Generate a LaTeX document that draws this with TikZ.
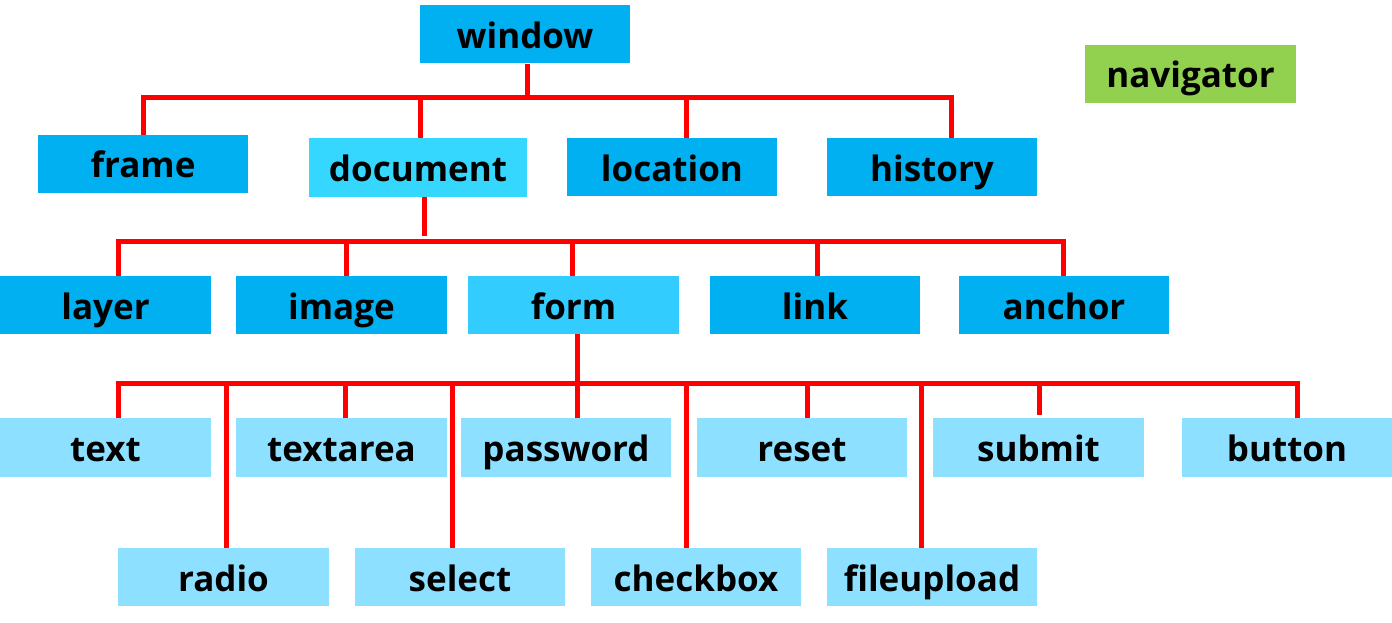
\documentclass[tikz,border=0pt]{standalone}
\usepackage{fontspec}
\setmainfont{Open Sans}
\definecolor{cdark}{RGB}{0,176,240}
\definecolor{cmid}{RGB}{54,215,255}
\definecolor{cform}{RGB}{51,204,255}
\definecolor{clight}{RGB}{141,224,255}
\definecolor{cgreen}{RGB}{146,208,80}
\definecolor{cred}{RGB}{255,0,0}
\begin{document}
\begin{tikzpicture}[x=1pt,y=1pt,
  box/.style={draw=none,minimum width=210pt,minimum height=58pt,inner sep=0pt,
    text height=30pt,text depth=2pt,
    font=\fontsize{35}{40}\selectfont\bfseries},
  conn/.style={draw=cred,line width=5pt}]
\useasboundingbox (0,0) rectangle (1392,-623);
% level 0
\node[box,fill=cdark] (window) at (525,-34.5) {window};
\node[box,fill=cgreen,minimum width=211pt] (navigator) at (1190.5,-74) {navigator};
% level 1
\node[box,fill=cdark] (frame) at (143,-164) {frame};
\node[box,fill=cmid,minimum width=218pt,minimum height=59pt] (document) at (418,-167.5) {document};
\node[box,fill=cdark] (location) at (672,-167) {location};
\node[box,fill=cdark] (history) at (932,-167) {history};
% level 2
\node[box,fill=cdark,minimum width=211pt] (layer) at (105.5,-305) {layer};
\node[box,fill=cdark,minimum width=211pt] (image) at (341.5,-305) {image};
\node[box,fill=cform,minimum width=211pt] (form) at (573.5,-305) {form};
\node[box,fill=cdark] (link) at (815,-305) {link};
\node[box,fill=cdark] (anchor) at (1064,-305) {anchor};
% level 3
\node[box,fill=clight,minimum width=211pt,minimum height=59pt] (text) at (105.5,-447.5) {text};
\node[box,fill=clight,minimum width=211pt,minimum height=59pt] (textarea) at (341.5,-447.5) {textarea};
\node[box,fill=clight,minimum height=59pt] (password) at (566,-447.5) {password};
\node[box,fill=clight,minimum height=59pt] (reset) at (802,-447.5) {reset};
\node[box,fill=clight,minimum width=211pt,minimum height=59pt] (submit) at (1038.5,-447.5) {submit};
\node[box,fill=clight,minimum height=59pt] (button) at (1287,-447.5) {button};
% level 4
\node[box,fill=clight,minimum width=211pt] (radio) at (223.5,-577) {radio};
\node[box,fill=clight] (select) at (460,-577) {select};
\node[box,fill=clight] (checkbox) at (696,-577) {checkbox};
\node[box,fill=clight] (fileupload) at (932,-577) {fileupload};
% bus 1
\coordinate (w0) at (527,-98);
\coordinate (a1) at (143,-98);
\coordinate (a2) at (420,-98);
\coordinate (a3) at (686,-98);
\coordinate (a4) at (951,-98);
\draw[conn] (w0 |- window.south) -- (w0);
\draw[conn,line cap=rect] (a1) -- (a4);
\draw[conn] (a1) -- (a1 |- frame.north);
\draw[conn] (a2) -- (a2 |- document.north);
\draw[conn] (a3) -- (a3 |- location.north);
\draw[conn] (a4) -- (a4 |- history.north);
% bus 2
\coordinate (d0) at (424,-236);
\coordinate (b1) at (118,-241);
\coordinate (b2) at (346,-241);
\coordinate (b3) at (572,-241);
\coordinate (b4) at (817,-241);
\coordinate (b5) at (1063,-241);
\draw[conn] (d0 |- document.south) -- (d0);
\draw[conn,line cap=rect] (b1) -- (b5);
\draw[conn] (b1) -- (b1 |- layer.north);
\draw[conn] (b2) -- (b2 |- image.north);
\draw[conn] (b3) -- (b3 |- form.north);
\draw[conn] (b4) -- (b4 |- link.north);
\draw[conn] (b5) -- (b5 |- anchor.north);
% bus 3
\coordinate (f0) at (577,-383);
\coordinate (c1) at (118,-383);
\coordinate (c2) at (226,-383);
\coordinate (c3) at (345,-383);
\coordinate (c4) at (452,-383);
\coordinate (c5) at (577,-383);
\coordinate (c6) at (686,-383);
\coordinate (c7) at (807,-383);
\coordinate (c8) at (921,-383);
\coordinate (c9) at (1039,-383);
\coordinate (c10) at (1297,-383);
\draw[conn] (f0 |- form.south) -- (f0);
\draw[conn,line cap=rect] (c1) -- (c10);
\draw[conn] (c1) -- (c1 |- text.north);
\draw[conn] (c2) -- (c2 |- radio.north);
\draw[conn] (c3) -- (c3 |- textarea.north);
\draw[conn] (c4) -- (c4 |- select.north);
\draw[conn] (c5) -- (c5 |- password.north);
\draw[conn] (c6) -- (c6 |- checkbox.north);
\draw[conn] (c7) -- (c7 |- reset.north);
\draw[conn] (c8) -- (c8 |- fileupload.north);
\draw[conn] (c9) -- ([yshift=3pt]c9 |- submit.north);
\draw[conn] (c10) -- (c10 |- button.north);
\end{tikzpicture}
\end{document}
